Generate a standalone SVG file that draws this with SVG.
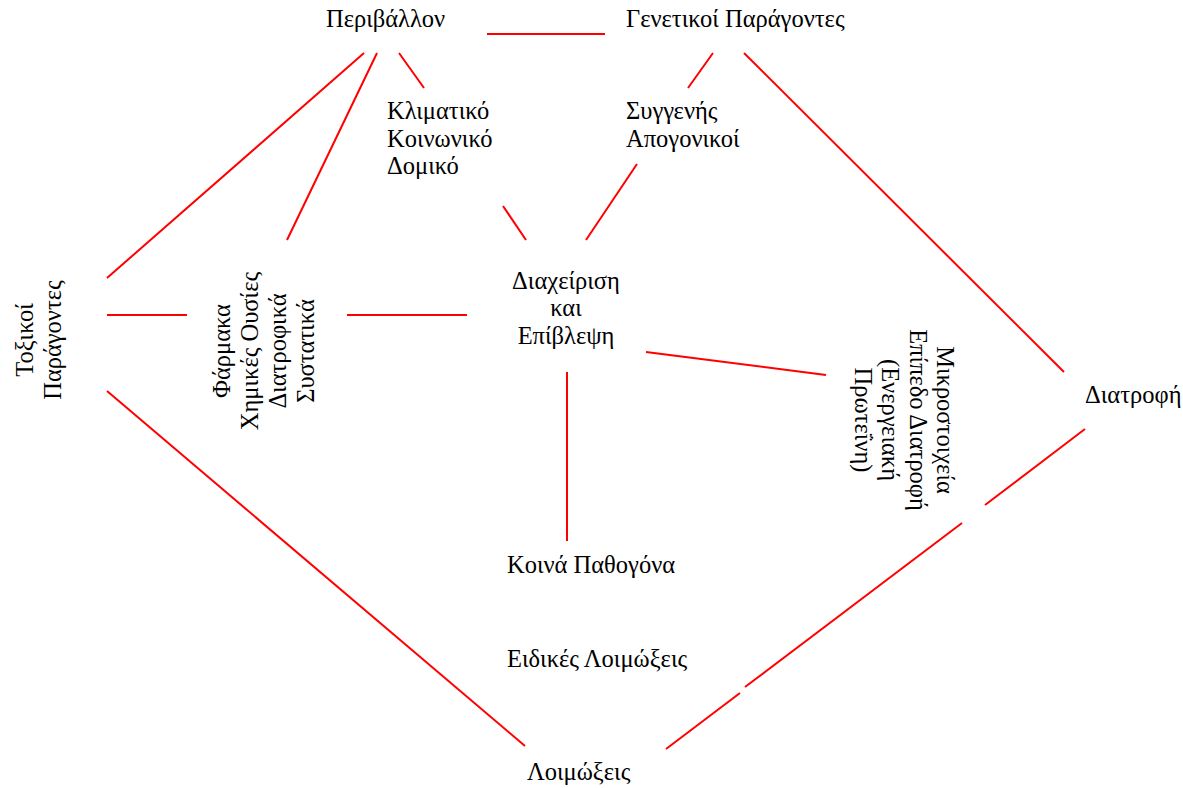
<svg xmlns="http://www.w3.org/2000/svg" width="1183" height="788" viewBox="0 0 1183 788">
<style>
text{font-family:"Liberation Serif","Times New Roman",serif;font-size:24.5px;fill:#000}
.c line{stroke:#ff0000;stroke-width:2;fill:none}
</style>
<rect width="1183" height="788" fill="#fff"/>
<g class="c" id="connectors">
<line x1="487" y1="34" x2="605" y2="34"/>
<line x1="364" y1="53" x2="107" y2="278"/>
<line x1="377" y1="53" x2="287" y2="240"/>
<line x1="399" y1="53" x2="424" y2="88"/>
<line x1="713" y1="53" x2="688" y2="88"/>
<line x1="744" y1="53" x2="1064" y2="372"/>
<line x1="503" y1="206" x2="526" y2="240"/>
<line x1="637" y1="164" x2="586" y2="240"/>
<line x1="107" y1="315" x2="187" y2="315"/>
<line x1="347" y1="315" x2="467" y2="315"/>
<line x1="646" y1="352" x2="826" y2="375"/>
<line x1="567" y1="372" x2="567" y2="541"/>
<line x1="107" y1="391" x2="525" y2="746"/>
<line x1="1085" y1="429" x2="985" y2="505"/>
<line x1="962" y1="523" x2="745" y2="687"/>
<line x1="740" y1="693" x2="666" y2="749"/>
</g>
<g id="perivallon"><text x="326" y="27">Περιβάλλον</text></g>
<g id="genetikoi"><text x="626" y="27">Γενετικοί Παράγοντες</text></g>
<g id="klimatiko"><text x="387" y="119">Κλιματικό</text><text x="387" y="147">Κοινωνικό</text><text x="387" y="174">Δομικό</text></g>
<g id="syggenis"><text x="626" y="119">Συγγενής</text><text x="626" y="147">Απογονικοί</text></g>
<g id="diaxeirisi" text-anchor="middle"><text x="566" y="289">Διαχείριση</text><text x="566" y="316">και</text><text x="566" y="344">Επίβλεψη</text></g>
<g id="toxikoi" transform="translate(33,340) rotate(-90)" text-anchor="middle"><text x="0" y="0">Τοξικοί</text><text x="0" y="28">Παράγοντες</text></g>
<g id="farmaka" transform="translate(230,351) rotate(-90)" text-anchor="middle"><text x="0" y="0">Φάρμακα</text><text x="0" y="28">Χημικές Ουσίες</text><text x="0" y="56">Διατροφικά</text><text x="0" y="84">Συστατικά</text></g>
<g id="mikrostoixeia" transform="translate(937,420) rotate(90)" text-anchor="middle"><text x="0" y="0">Μικροστοιχεία</text><text x="0" y="27">Επίπεδο Διατροφή</text><text x="0" y="55">(Ενεργειακή</text><text x="0" y="82">Πρωτεΐνη)</text></g>
<g id="diatrofi"><text x="1085" y="403">Διατροφή</text></g>
<g id="koina"><text x="507" y="573">Κοινά Παθογόνα</text></g>
<g id="eidikes"><text x="507" y="667">Ειδικές Λοιμώξεις</text></g>
<g id="loimoxeis"><text x="527" y="780">Λοιμώξεις</text></g>
</svg>
